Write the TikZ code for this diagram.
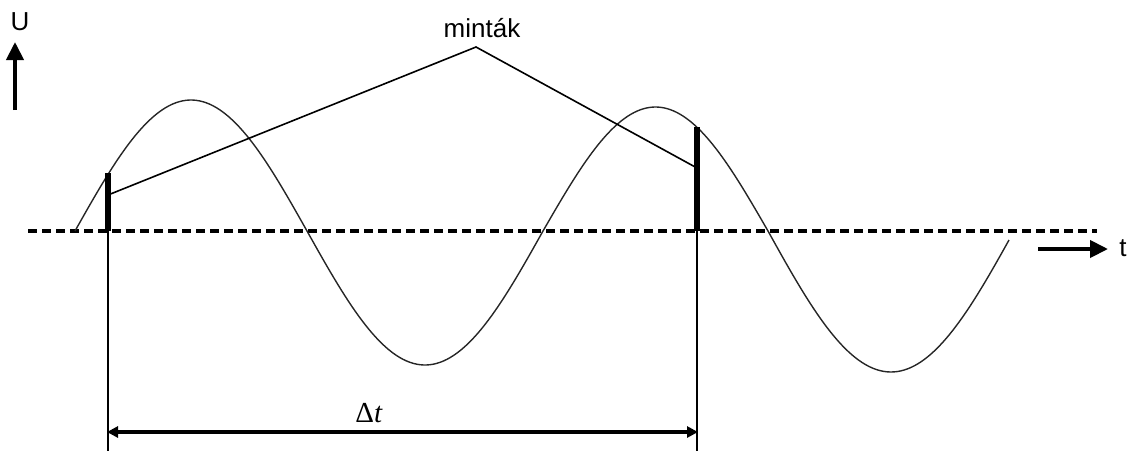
\documentclass[tikz,border=0pt]{standalone}
\usepackage{fontspec}
\setmainfont{Liberation Sans}
\newfontfamily\serifrm{Liberation Serif}
\usetikzlibrary{arrows.meta}
\tikzset{
  wave/.style={line width=1.4pt, black!85},
  thin line/.style={line width=1.6pt},
  samplebar/.style={line width=6pt},
  axisdash/.style={line width=3.5pt, dash pattern=on 9pt off 5pt},
  bigarrow/.style={line width=4pt, -{Triangle[length=18pt,width=17pt]}},
  dimarrow/.style={line width=3.4pt, {Triangle[length=11pt,width=11pt]}-{Triangle[length=11pt,width=11pt]}, shorten <=-1pt, shorten >=-1pt},
  lbl/.style={inner sep=0pt, font=\fontsize{26}{30}\selectfont}
}
\begin{document}
\begin{tikzpicture}[x=1pt,y=-1pt]
\useasboundingbox (0,0) rectangle (1131,451);
% coordinates
\coordinate (a0) at (28,231);
\coordinate (a1) at (1097,231);
\coordinate (o1) at (108,231);
\coordinate (o2) at (697,231);
\coordinate (s1) at (108,173);
\coordinate (s2) at (697,127);
\coordinate (b1) at (108,451);
\coordinate (b2) at (697,451);
\coordinate (apex) at (476,47);
\coordinate (c1) at (108,195);
\coordinate (c2) at (697,168);
\coordinate (d1) at (108,432);
\coordinate (d2) at (697,432);
\coordinate (u0) at (15,110);
\coordinate (u1) at (15,42);
\coordinate (t0) at (1038,249);
\coordinate (t1) at (1108,249);
% axis
\draw[axisdash] (a0) -- (a1);
% wave
\draw[wave] plot[domain=75:307, samples=70] (\x, {231-131*sin((\x-75)/232*180)})
  -- plot[domain=307:543, samples=70] (\x, {231+134*sin((\x-307)/236*180)})
  -- plot[domain=543:768, samples=70] (\x, {231-124*sin((\x-543)/225*180)})
  -- plot[domain=768:1009, samples=70] (\x, {231+141*sin((\x-768)/246*180)});
% vertical lines
\draw[thin line] (o1) -- (b1);
\draw[thin line] (o2) -- (b2);
% sample bars
\draw[samplebar] (s1) -- (o1);
\draw[samplebar] (s2) -- (o2);
% label lines
\node[lbl, anchor=base] (minta) at (482,37) {minták};
\draw[thin line] (c1) -- (apex) -- (c2);
% delta t
\draw[dimarrow] (d1) -- (d2);
\node[inner sep=0pt, font=\fontsize{29}{32}\selectfont\serifrm] (dt) at (369,413) {Δ\textit{t}};
% U axis
\draw[bigarrow] (u0) -- (u1);
\node[lbl] (U) at (20,22) {U};
% t axis
\draw[bigarrow] (t0) -- (t1);
\node[lbl] (T) at (1123,248) {t};
\end{tikzpicture}
\end{document}
